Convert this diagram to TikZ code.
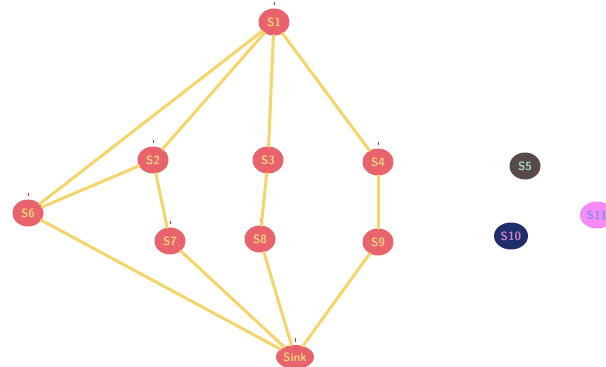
\documentclass[tikz,border=0pt]{standalone}
\usepackage{tikz}
\usetikzlibrary{shapes.geometric, arrows, positioning}
\usepackage{xcolor}
\definecolor{nodered}{HTML}{E9636D}
\definecolor{nodetext}{HTML}{F8D27A}
\definecolor{edgeyellow}{HTML}{F5D56A}
\definecolor{tickred}{HTML}{C03040}
\tikzstyle{vertex}    = [ellipse, fill=nodered, minimum width=31pt, minimum height=27pt, inner sep=0pt, text=nodetext, font=\sffamily\bfseries\large]
\tikzstyle{flagged}   = [label={[tickred, inner sep=3pt]above:\rule{0.8pt}{3.5pt}}]
\tikzstyle{edge}      = [line width=3pt, edgeyellow, line cap=round]

\begin{document}
\begin{tikzpicture}[x=1pt, y=-1pt]
\useasboundingbox (0,0) rectangle (606,367);

\node[vertex,flagged] (S1)   at (274,22) {S1};
\node[vertex,flagged] (S2)   at (153,160) {S2};
\node[vertex,flagged] (S3)   at (268,160) {S3};
\node[vertex,flagged] (S4)   at (378,162) {S4};
\node[vertex,flagged] (S6)   at (28,213) {S6};
\node[vertex,flagged] (S7)   at (170,241) {S7};
\node[vertex,flagged] (S8)   at (260,239) {S8};
\node[vertex,flagged] (S9)   at (378,242) {S9};
\node[vertex,flagged,minimum width=38pt,minimum height=24pt] (Sink) at (295,357) {Sink};

\node[vertex,fill={rgb,255:red,90;green,74;blue,71},text={rgb,255:red,160;green,210;blue,200}] (S5)  at (525,166) {S5};
\node[vertex,fill={rgb,255:red,31;green,45;blue,107},text={rgb,255:red,200;green,130;blue,200},minimum width=34pt] (S10) at (511,236) {S10};
\node[vertex,fill={rgb,255:red,245;green,140;blue,245},text={rgb,255:red,140;green,140;blue,240},minimum width=34pt] (S11) at (597,215) {S11};

\draw[edge] (S1) -- (S6);
\draw[edge] (S1) -- (S2);
\draw[edge] (S1) -- (S3);
\draw[edge] (S1) -- (S4);
\draw[edge] (S2) -- (S6);
\draw[edge] (S2) -- (S7);
\draw[edge] (S3) -- (S8);
\draw[edge] (S4) -- (S9);

\draw[edge] (S6) -- (Sink);
\draw[edge] (S7) -- (Sink);
\draw[edge] (S8) -- (Sink);
\draw[edge] (S9) -- (Sink);

\end{tikzpicture}
\end{document}
